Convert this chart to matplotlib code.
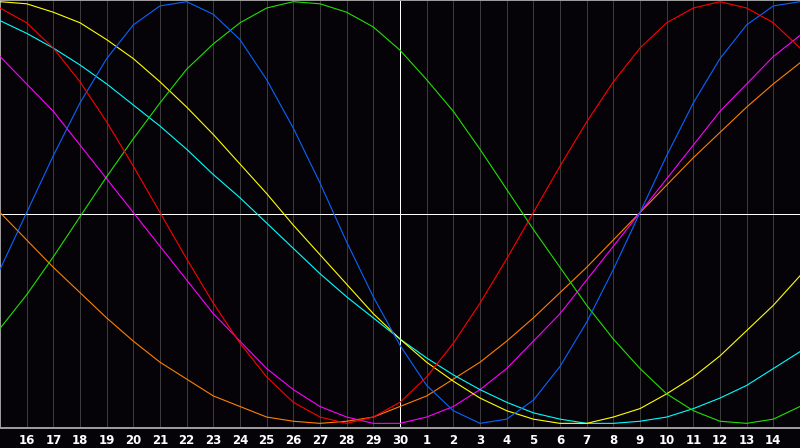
import matplotlib
matplotlib.use('Agg')
import matplotlib.pyplot as plt

# day offsets relative to "today" (the 30th)
offsets = list(range(-15, 16))
tick_offsets = list(range(-14, 15))
day_labels = [str(d) for d in range(16, 31)] + [str(d) for d in range(1, 15)]

# cycle values in percent, one per day
physical = [-27, 0, 27, 52, 73, 89, 98, 100, 94, 82, 63, 40, 14, -14, -40, -63,
            -82, -94, -100, -98, -89, -73, -52, -27, 0, 27, 52, 73, 89, 98, 100]
emotional = [97, 90, 78, 62, 43, 22, 0, -22, -43, -62, -78, -90, -97, -100, -97, -90,
             -78, -62, -43, -22, 0, 22, 43, 62, 78, 90, 97, 100, 97, 90, 78]
intellectual = [-55, -39, -21, -2, 17, 35, 52, 68, 80, 90, 97, 100, 99, 95, 88, 77,
                63, 48, 30, 11, -8, -26, -44, -60, -74, -86, -94, -99, -100, -98, -92]
intuitive = [74, 61, 48, 32, 16, 0, -16, -32, -48, -61, -74, -84, -92, -97, -100, -100,
             -97, -92, -84, -74, -61, -48, -32, -16, 0, 16, 32, 48, 61, 74, 84]
aesthetic = [100, 99, 95, 90, 82, 73, 62, 50, 37, 23, 9, -6, -20, -34, -48, -60,
             -71, -80, -88, -94, -98, -100, -100, -97, -93, -86, -78, -68, -56, -44, -30]
awareness = [0, -13, -26, -38, -50, -61, -71, -79, -87, -92, -97, -99, -100, -99, -97, -92,
             -87, -79, -71, -61, -50, -38, -26, -13, 0, 13, 26, 38, 50, 61, 71]
spiritual = [91, 85, 78, 70, 61, 51, 41, 30, 18, 7, -5, -17, -29, -40, -50, -60,
             -69, -77, -84, -90, -95, -98, -100, -100, -99, -97, -93, -88, -82, -74, -66]

series = [
    (awareness, '#ff8000'),
    (intuitive, '#ff00ff'),
    (spiritual, '#00ffff'),
    (aesthetic, '#ffff00'),
    (intellectual, '#20e000'),
    (physical, '#0a64ff'),
    (emotional, '#ff0000'),
]

BG = '#050308'
W, H = 800, 448
fig = plt.figure(figsize=(W / 100, H / 100), dpi=100, facecolor=BG)
ax = fig.add_axes([0, 20 / H, 1, 428 / H])
ax.set_facecolor(BG)
ax.set_xlim(-15, 15)
ax.set_ylim(-102.2, 100.8)

px = 0.72  # one pixel in points
for t in tick_offsets:
    if t != 0:
        ax.axvline(t, color='#3a3a3a', lw=px, zorder=1)
ax.axhline(-0.7, color='white', lw=px, zorder=2)
ax.axvline(0, color='white', lw=px, zorder=2)

for vals, col in series:
    ax.plot(offsets, vals, color=col, lw=0.8, zorder=3)

ax.spines['right'].set_visible(False)
for side in ['left', 'top', 'bottom']:
    ax.spines[side].set_color('#a0a0a0')
    ax.spines[side].set_linewidth(1.4)

ax.set_yticks([])
ax.set_xticks(tick_offsets)
ax.set_xticklabels(day_labels, color='white', fontweight='bold',
                   fontfamily='DejaVu Sans', fontsize=8.5)
ax.tick_params(axis='x', length=0, pad=4.5)

fig.savefig('out.png', dpi=100, facecolor=BG)
